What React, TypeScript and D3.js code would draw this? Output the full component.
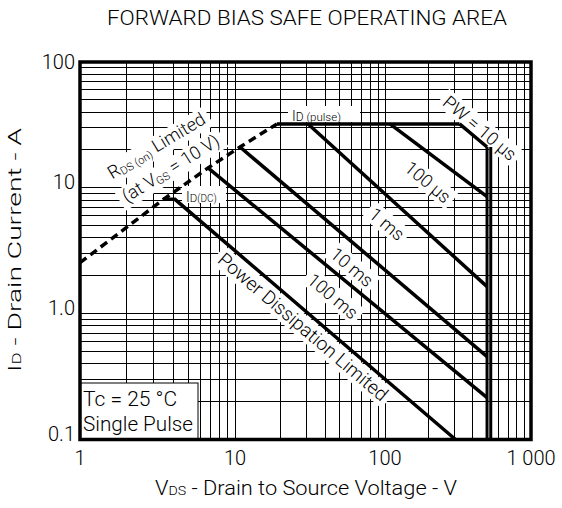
import React from "react";
import * as d3 from "d3";

// ---- data ----
const xTickValues = [1, 10, 100, 1000];
const xTickLabels = ["1", "10", "100", "1 000"];
const yTickValues = [0.1, 1, 10, 100];
const yTickLabels = ["0.1", "1.0", "10", "100"];

// RDS(on) limited boundary (dashed)
const rdsLimitV = [1, 3.43, 6.7, 10.8, 19.05];
const rdsLimitA = [2.54, 8.04, 14.4, 21.1, 32.2];

// ID(pulse) plateau
const idPulseV = [19.05, 324];
const idPulseA = [32.2, 32.2];

// DC (power dissipation limited)
const dcV = [3.43, 4.1, 304];
const dcA = [8.1, 8.1, 0.1];

// pulse width limited lines
const pwNames = ["10 µs", "100 µs", "1 ms", "10 ms", "100 ms"];
const pwStartV = [324, 108, 30.7, 10.8, 6.7];
const pwStartA = [32.2, 32.2, 32.2, 21.1, 14.4];
const pwEndV = [500, 500, 500, 500, 500];
const pwEndA = [21.1, 8.5, 1.64, 0.456, 0.215];

// breakdown voltage limit (double line)
const bvV = [500, 530];
const bvTopA = [21.1, 21.1];
const bvBottomA = [0.1, 0.1];

const W = 562;
const H = 508;
const FONT = "Roboto, 'Liberation Sans', Arial, sans-serif";

let ctx: CanvasRenderingContext2D | null = null;
function measure(str: string, size: number): number {
  if (!ctx) ctx = document.createElement("canvas").getContext("2d");
  if (!ctx) return str.length * size * 0.5;
  ctx.font = `300 ${size}px Roboto, 'Liberation Sans', Arial, sans-serif`;
  return ctx.measureText(str).width;
}

export default function App() {
  const x = d3.scaleLog().domain([1, 10, 100, 1000]).range([80, 235, 385, 531]);
  const y = d3.scaleLog().domain([0.1, 100]).range([439.5, 62]);
  const line = d3
    .line<[number, number]>()
    .x((d) => x(d[0]))
    .y((d) => y(d[1]));

  const xGrid: number[] = [];
  [1, 10, 100].forEach((d) => {
    for (let m = 1; m <= 9; m++) if (d * m > 1) xGrid.push(d * m);
  });
  const yGrid: number[] = [];
  [0.1, 1, 10].forEach((d) => {
    for (let m = 1; m <= 9; m++) if (d * m > 0.1 + 1e-9) yGrid.push(d * m);
  });

  const [x0, x1] = [x(1), x(1000)];
  const [yTop, yBot] = [y(100), y(0.1)];

  const rotLabel = (cx: number, cy: number, ang: number, content: string, size = 18) => {
    const w = measure(content, size) + 8;
    const h = size * 1.15;
    return (
      <g transform={`translate(${cx},${cy}) rotate(${ang})`}>
        <rect x={-w / 2} y={-h / 2} width={w} height={h} fill="#fff" />
        <text textAnchor="middle" dominantBaseline="central" fontSize={size} fontWeight={300}>
          {content}
        </text>
      </g>
    );
  };

  const pwLabelPos: [number, number][] = [
    [480, 128],
    [428, 182],
    [387, 224],
    [352, 267],
    [333, 296],
  ];

  const rds1W = measure("R", 18) + measure("DS (on)", 11) + measure(" Limited", 18) + 10;
  const rds2W = measure("(at V", 18) + measure("GS", 11) + measure(" = 10 V)", 18) + 10;

  return (
    <svg
      width={W}
      height={H}
      style={{ position: "absolute", left: 0, top: 0, background: "#fff" }}
      fontFamily={FONT}
    >
      <rect x={0} y={0} width={W} height={H} fill="#fff" />
      {/* title */}
      <text x={307} y={25} textAnchor="middle" fontSize={21} fontWeight={300} textLength={400} lengthAdjust="spacingAndGlyphs">
        FORWARD BIAS SAFE OPERATING AREA
      </text>

      {/* grid */}
      <g stroke="#000" strokeWidth={1} shapeRendering="crispEdges">
        {xGrid.map((v) => (
          <line key={"gx" + v} x1={x(v)} x2={x(v)} y1={yTop} y2={yBot} />
        ))}
        {yGrid.map((v) => (
          <line key={"gy" + v} x1={x0} x2={x1} y1={y(v)} y2={y(v)} />
        ))}
      </g>

      {/* legend box */}
      <rect x={x0} y={383} width={118} height={yBot - 383} fill="#fff" stroke="#000" strokeWidth={1} />
      <text x={83} y={406} fontSize={21} fontWeight={300}>Tc = 25 °C</text>
      <text x={83} y={431} fontSize={21} fontWeight={300} textLength={110} lengthAdjust="spacingAndGlyphs">Single Pulse</text>

      {/* label backgrounds that sit under the curves */}
      <g transform="translate(159.5,151) rotate(-31)">
        <rect x={-rds1W / 2} y={-16} width={rds1W} height={22} fill="#fff" />
      </g>
      <g transform="translate(174,173.5) rotate(-32)">
        <rect x={-rds2W / 2} y={-16} width={rds2W} height={22} fill="#fff" />
      </g>
      {pwNames.map((n, i) => (
        <g key={"l" + n}>{rotLabel(pwLabelPos[i][0], pwLabelPos[i][1], 40, i === 0 ? "PW = " + n : n)}</g>
      ))}
      {rotLabel(303, 327, 40.5, "Power Dissipation Limited", 19)}

      {/* curves */}
      <g fill="none" stroke="#000" strokeWidth={3.5}>
        <path d={line(rdsLimitV.map((v, i) => [v, rdsLimitA[i]]))!} strokeDasharray="8 5" />
        <path d={line(idPulseV.map((v, i) => [v, idPulseA[i]]))!} />
        <path d={line(dcV.map((v, i) => [v, dcA[i]]))!} />
        {pwNames.map((n, i) => (
          <path key={n} d={line([[pwStartV[i], pwStartA[i]], [pwEndV[i], pwEndA[i]]])!} />
        ))}
        {bvV.map((v, i) => (
          <path key={"bv" + i} d={line([[v, bvTopA[i]], [v, bvBottomA[i]]])!} strokeWidth={3} />
        ))}
      </g>

      {/* ID(pulse) label */}
      <rect x={288} y={106} width={72} height={16} fill="#fff" />
      <text x={292} y={120.5} fontWeight={300}>
        <tspan fontSize={14}>I</tspan>
        <tspan fontSize={12}>D</tspan>
        <tspan fontSize={11.5}> (pulse)</tspan>
      </text>

      {/* ID(DC) label */}
      <rect x={182} y={186} width={44} height={17} fill="#fff" />
      <text x={186} y={201.5} fontWeight={300}>
        <tspan fontSize={14}>I</tspan>
        <tspan fontSize={11.5}>D</tspan>
        <tspan fontSize={10}>(DC)</tspan>
      </text>

      {/* RDS(on) limited label text */}
      <text transform="translate(159.5,151) rotate(-31)" textAnchor="middle" fontSize={18} fontWeight={300}>
        R<tspan fontSize={11} dy={2}>DS (on)</tspan>
        <tspan dy={-2}> Limited</tspan>
      </text>
      <text transform="translate(174,173.5) rotate(-32)" textAnchor="middle" fontSize={18} fontWeight={300}>
        (at V<tspan fontSize={11} dy={2}>GS</tspan>
        <tspan dy={-2}> = 10 V)</tspan>
      </text>

      {/* frame */}
      <rect x={x0} y={yTop} width={x1 - x0} height={yBot - yTop} fill="none" stroke="#000" strokeWidth={3.5} />

      {/* tick labels */}
      {xTickValues.map((v, i) => (
        <text key={"xt" + v} x={x(v)} y={465} textAnchor="middle" fontSize={20} fontWeight={300}>
          {xTickLabels[i]}
        </text>
      ))}
      {yTickValues.map((v, i) => (
        <text key={"yt" + v} x={75} y={Math.max(y(v) - 6, 62)} textAnchor="end" dominantBaseline="central" fontSize={20} fontWeight={300}>
          {yTickLabels[i]}
        </text>
      ))}

      {/* axis titles */}
      <text x={306} y={495} textAnchor="middle" fontSize={20} fontWeight={300} textLength={302} lengthAdjust="spacingAndGlyphs">
        V<tspan fontSize={13}>DS</tspan> - Drain to Source Voltage - V
      </text>
      <text transform="translate(21,250) rotate(-90)" textAnchor="middle" fontSize={19} fontWeight={300} textLength={244} lengthAdjust="spacingAndGlyphs">
        I<tspan fontSize={12.5}>D</tspan> - Drain Current - A
      </text>
    </svg>
  );
}
